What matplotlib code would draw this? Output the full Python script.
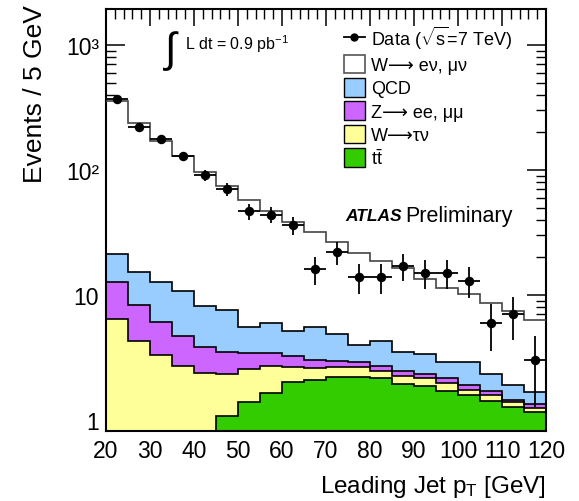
import matplotlib
matplotlib.use('Agg')
import matplotlib.pyplot as plt
from matplotlib.lines import Line2D
from matplotlib.patches import Patch
import numpy as np

plt.rcParams['font.family'] = ['Liberation Sans', 'DejaVu Sans']
plt.rcParams['mathtext.fontset'] = 'custom'
plt.rcParams['mathtext.rm'] = 'Liberation Sans'
plt.rcParams['mathtext.it'] = 'Liberation Sans:italic'

# 5 GeV bins from 20 to 120 GeV
edges = np.arange(20, 125, 5)
centers = edges[:-1] + 2.5

# observed events
data = [370, 221, 177, 129, 91, 70, 47, 44, 36, 16, 22, 14, 14, 17, 15, 15, 13, 6, 7, 3]

# MC contributions per bin (stacked bottom -> top)
ttbar = [0.2, 0.3, 0.4, 0.5, 0.7, 1.07, 1.39, 1.65, 2.0, 2.08,
         2.22, 2.22, 2.18, 1.95, 1.88, 1.71, 1.58, 1.43, 1.26, 1.15]
wtau = [6.19, 4.01, 2.91, 2.20, 1.66, 1.26, 1.17, 1.04, 0.67, 0.54,
        0.45, 0.45, 0.29, 0.29, 0.28, 0.26, 0.17, 0.15, 0.13, 0.09]
zll = [6.41, 4.06, 2.73, 2.00, 1.45, 1.15, 0.89, 0.73, 0.60, 0.42,
       0.31, 0.26, 0.25, 0.24, 0.17, 0.19, 0.16, 0.13, 0.06, 0.10]
qcd = [8.5, 6.83, 6.56, 6.0, 4.31, 4.15, 2.13, 2.52, 1.88, 2.54,
       1.89, 1.05, 1.59, 1.04, 1.02, 0.73, 1.02, 0.62, 0.47, 0.32]
wlnu = [337, 221, 158, 118, 87.8, 66.5, 52.3, 41.4, 33.0, 26.1,
        21.5, 17.7, 14.5, 12.9, 10.1, 8.4, 7.3, 6.25, 5.57, 4.65]

fig = plt.figure(figsize=(5.79, 5.02), dpi=100)
ax = fig.add_axes([106/579, 70/502, 440/579, 422/502])
ax.set_yscale('log')

base = np.full(len(data), 1e-3)
stack = [(ttbar, '#33cc00', 'black'), (wtau, '#ffff99', 'black'),
         (zll, '#cc66ff', 'black'), (qcd, '#99ccff', 'black'),
         (wlnu, 'white', '#444444')]
for vals, fc, ec in stack:
    top = base + np.array(vals)
    ax.stairs(top, edges, baseline=base, fill=True, color=fc, zorder=2)
    ax.stairs(top, edges, baseline=None, color=ec, linewidth=1.2, zorder=3)
    base = top

# data points with poisson errors
data = np.array(data)
ax.errorbar(centers, data, yerr=np.sqrt(data), xerr=2.5, fmt='o', color='black',
            markersize=5.8, elinewidth=1.3, capsize=0, zorder=5)

ax.set_xlim(20, 120)
ax.set_ylim(0.816, 1940)
ax.set_xticks(np.arange(20, 121, 10))
ax.set_xticks(np.arange(20, 121, 2), minor=True)
ax.set_yticks([1, 10, 100, 1000])
ax.set_yticklabels(['1', '10', '10²', '10³'])
ax.tick_params(which='both', direction='in', top=True, right=True, labelsize=16.5)
ax.tick_params(which='major', length=14, width=1.1)
ax.tick_params(which='minor', length=7, width=1.0)
ax.tick_params(axis='x', which='major', length=12, pad=6)
ax.tick_params(axis='y', which='major', pad=5)
for sp in ax.spines.values():
    sp.set_linewidth(1.5)

ax.set_ylabel('Events / 5 GeV', fontsize=19, ha='right')
ax.yaxis.set_label_coords(-0.135, 1.012)
ax.set_xlabel(r'Leading Jet p$_{\mathregular{T}}$ [GeV]', fontsize=17.5, ha='right')
ax.xaxis.set_label_coords(1.0, -0.1)

# luminosity and ATLAS labels
ax.text(0.13, 0.903, r'$\int$', transform=ax.transAxes, fontsize=30, va='center')
ax.text(0.18, 0.92, r'L dt = 0.9 pb$^{\mathregular{-1}}$', transform=ax.transAxes,
        fontsize=11.5, va='center')
ax.text(0.543, 0.51, 'ATLAS', transform=ax.transAxes, fontsize=12.5,
        fontweight='bold', fontstyle='italic', va='center')
ax.text(0.68, 0.51, 'Preliminary', transform=ax.transAxes, fontsize=15.5, va='center')

handles = [Line2D([0], [0], color='black', marker='o', markersize=5, linewidth=1.3),
           Patch(facecolor='white', edgecolor='#555555', linewidth=1.2),
           Patch(facecolor='#99ccff', edgecolor='black', linewidth=1.0),
           Patch(facecolor='#cc66ff', edgecolor='black', linewidth=1.0),
           Patch(facecolor='#ffff99', edgecolor='black', linewidth=1.0),
           Patch(facecolor='#33cc00', edgecolor='black', linewidth=1.0)]
labels = [r'Data ($\sqrt{\mathregular{s}}$=7 TeV)', 'W⟶ eν, μν', 'QCD',
          'Z⟶ ee, μμ', 'W⟶τν', r't$\bar{\mathregular{t}}$']
ax.legend(handles, labels, loc='upper left', bbox_to_anchor=(0.54, 0.965),
          frameon=False, fontsize=13, handlelength=1.2, handleheight=1.2,
          handletextpad=0.3, labelspacing=0.22, borderpad=0, borderaxespad=0)

fig.savefig('out.png', dpi=100)
